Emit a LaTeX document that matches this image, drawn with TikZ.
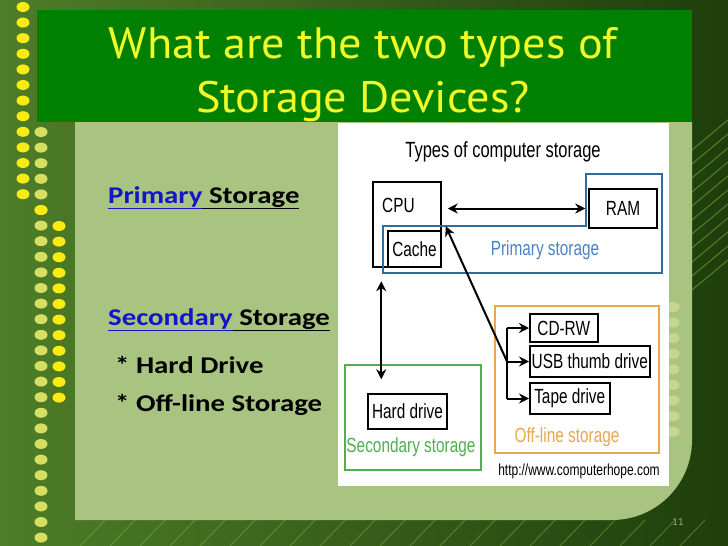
\documentclass[tikz,border=0pt]{standalone}
\usepackage{fontspec}
\usetikzlibrary{arrows.meta, calc}
\newfontfamily\titlefont[FakeStretch=1.05]{PT Sans}
\newfontfamily\bodyfont[FakeStretch=1.2]{Carlito}
\newfontfamily\diagfont[FakeStretch=0.75]{Liberation Sans}
\definecolor{bgleft}{RGB}{78,125,40}
\definecolor{bgright}{RGB}{30,62,12}
\definecolor{traceline}{RGB}{140,190,70}
\definecolor{titlegreen}{RGB}{0,128,0}
\definecolor{titleyellow}{RGB}{240,250,40}
\definecolor{panelgreen}{RGB}{168,196,128}
\definecolor{dotyellow}{RGB}{250,235,20}
\definecolor{dotpale}{RGB}{215,222,100}
\definecolor{dotfaint}{RGB}{198,214,140}
\definecolor{linkblue}{RGB}{20,20,200}
\definecolor{primblue}{RGB}{45,110,160}
\definecolor{primtext}{RGB}{75,130,195}
\definecolor{secgreen}{RGB}{80,175,80}
\definecolor{offorange}{RGB}{232,168,80}
\definecolor{numgray}{RGB}{150,175,135}

\begin{document}
\begin{tikzpicture}[
    x=1pt, y=-1pt,
    >=Stealth,
    devbox/.style={draw=black, line width=1.5pt, fill=white, inner sep=0pt, font=\diagfont\fontsize{20.5}{22}\selectfont},
    groupbox/.style={line width=2pt},
    grouplabel/.style={inner sep=0pt, font=\diagfont\fontsize{20.5}{22}\selectfont},
    sidetext/.style={anchor=base west, inner sep=0pt, font=\bodyfont\bfseries\fontsize{24}{26}\selectfont},
    dot/.style={x radius=6.5pt, y radius=5pt},
    arr/.style={line width=2pt, -{Stealth[length=10pt, width=10pt]}},
    dblarr/.style={line width=2pt, {Stealth[length=10pt, width=10pt]}-{Stealth[length=10pt, width=10pt]}}
]
\useasboundingbox (0,0) rectangle (728,546);

% ================= SLIDE BACKGROUND =================
\shade[left color=bgleft, right color=bgright] (0,0) rectangle (728,546);
\foreach \y in {0,14,...,140} \draw[traceline, opacity=.5, line width=1pt] (692,\y+150) -- (728,\y+120);
\foreach \x in {80,110,...,680} \draw[traceline, opacity=.4, line width=1pt] (\x,546) -- (\x+25,520);
\foreach \y in {7,22.6,...,195} \fill[dotyellow] (23,\y) ellipse [dot];
\foreach \y in {132,147.6,...,545} \fill[dotpale] (41,\y) ellipse [dot];
\fill[dotyellow] (41,210) ellipse [dot];
\foreach \y in {226,241.6,...,406} \fill[dotyellow] (59,\y) ellipse [dot];

% content panel
\fill[panelgreen] (75,122) -- (692,122) [rounded corners=80pt] -- (692,520) [sharp corners] -- (75,520) -- cycle;
\foreach \y in {307,322.6,...,435} \fill[dotfaint] (673,\y) ellipse [dot];

% title bar
\fill[titlegreen] (37,10) rectangle (692,122);
\node[align=center, anchor=base, inner sep=0pt, text=titleyellow, font=\titlefont\fontsize{44}{54}\selectfont] (title) at (363,112) {What are the two types of\\Storage Devices?};

% ================= LEFT TEXT =================
\node[sidetext] (primary) at (108,203) {{\color{linkblue}\underline{Primary}}\underline{ Storage}};
\node[sidetext] (secondary) at (108,325) {{\color{linkblue}\underline{Secondary}}\underline{ Storage}};
\node[sidetext] (harddrive) at (115,373) {* Hard Drive};
\node[sidetext] (offline) at (115,411) {* Off-line Storage};

% ================= STORAGE PICTURE =================
\fill[white] (338,123) rectangle (669,486);
\node[grouplabel, font=\diagfont\fontsize{22}{24}\selectfont] (picTitle) at (503,152) {Types of computer storage};

% Primary storage
\node[devbox, minimum width=68pt, minimum height=85pt] (cpu) at (407,224.5) {};
\node[grouplabel, anchor=west] (cpuText) at (382,205) {CPU};
\node[devbox, minimum width=53pt, minimum height=36pt] (cache) at (414.5,249) {Cache};
\node[devbox, minimum width=68pt, minimum height=39pt] (ram) at (623,208.5) {RAM};
\draw[groupbox, draw=primblue] (383,226) -- (586,226) -- (586,174) -- (662,174) -- (662,273) -- (383,273) -- cycle;
\node[grouplabel, text=primtext] (primLabel) at (545,250) {Primary storage};

% Secondary storage
\draw[groupbox, draw=secgreen] (345,365) rectangle (481,470);
\node[devbox, minimum width=79pt, minimum height=35pt] (hdd) at (407.5,411.5) {Hard drive};
\node[grouplabel, text=secgreen] (secLabel) at (411,447) {Secondary storage};

% Off-line storage
\draw[groupbox, draw=offorange] (495,306) rectangle (659,453);
\node[devbox, anchor=west, minimum width=68pt, minimum height=28pt] (cdrw) at (529,328) {CD-RW};
\node[devbox, anchor=west, minimum width=120pt, minimum height=31pt] (usb) at (529,361.5) {USB thumb drive};
\node[devbox, anchor=west, minimum width=80pt, minimum height=31pt] (tape) at (529,398.5) {Tape drive};
\node[grouplabel, text=offorange] (offLabel) at (567,437) {Off-line storage};

\node[inner sep=0pt, font=\diagfont\fontsize{16}{18}\selectfont] (source) at (579,471) {http://www.computerhope.com};

% Arrows
\draw[dblarr] ([xshift=6pt]cpu.east |- ram.west) -- ([xshift=-3pt]ram.west);
\draw[dblarr] ($(hdd.north west)+(14,-112)$) -- ($(hdd.north west)+(14,-14)$);

\coordinate (fork) at ($(usb.west)+(-22,0)$);
\draw[line width=2pt] (fork |- cdrw.west) -- (fork |- tape.west);
\draw[arr] (fork |- cdrw.west) -- (cdrw.west);
\draw[arr] (fork) -- (usb.west);
\draw[arr] (fork |- tape.west) -- (tape.west);
\draw[arr] (fork) -- ([shift={(4,-4)}]cache.north east);

% slide number
\node[text=numgray, font=\titlefont\fontsize{10}{12}\selectfont] (pagenum) at (678,522) {11};

\end{tikzpicture}
\end{document}
